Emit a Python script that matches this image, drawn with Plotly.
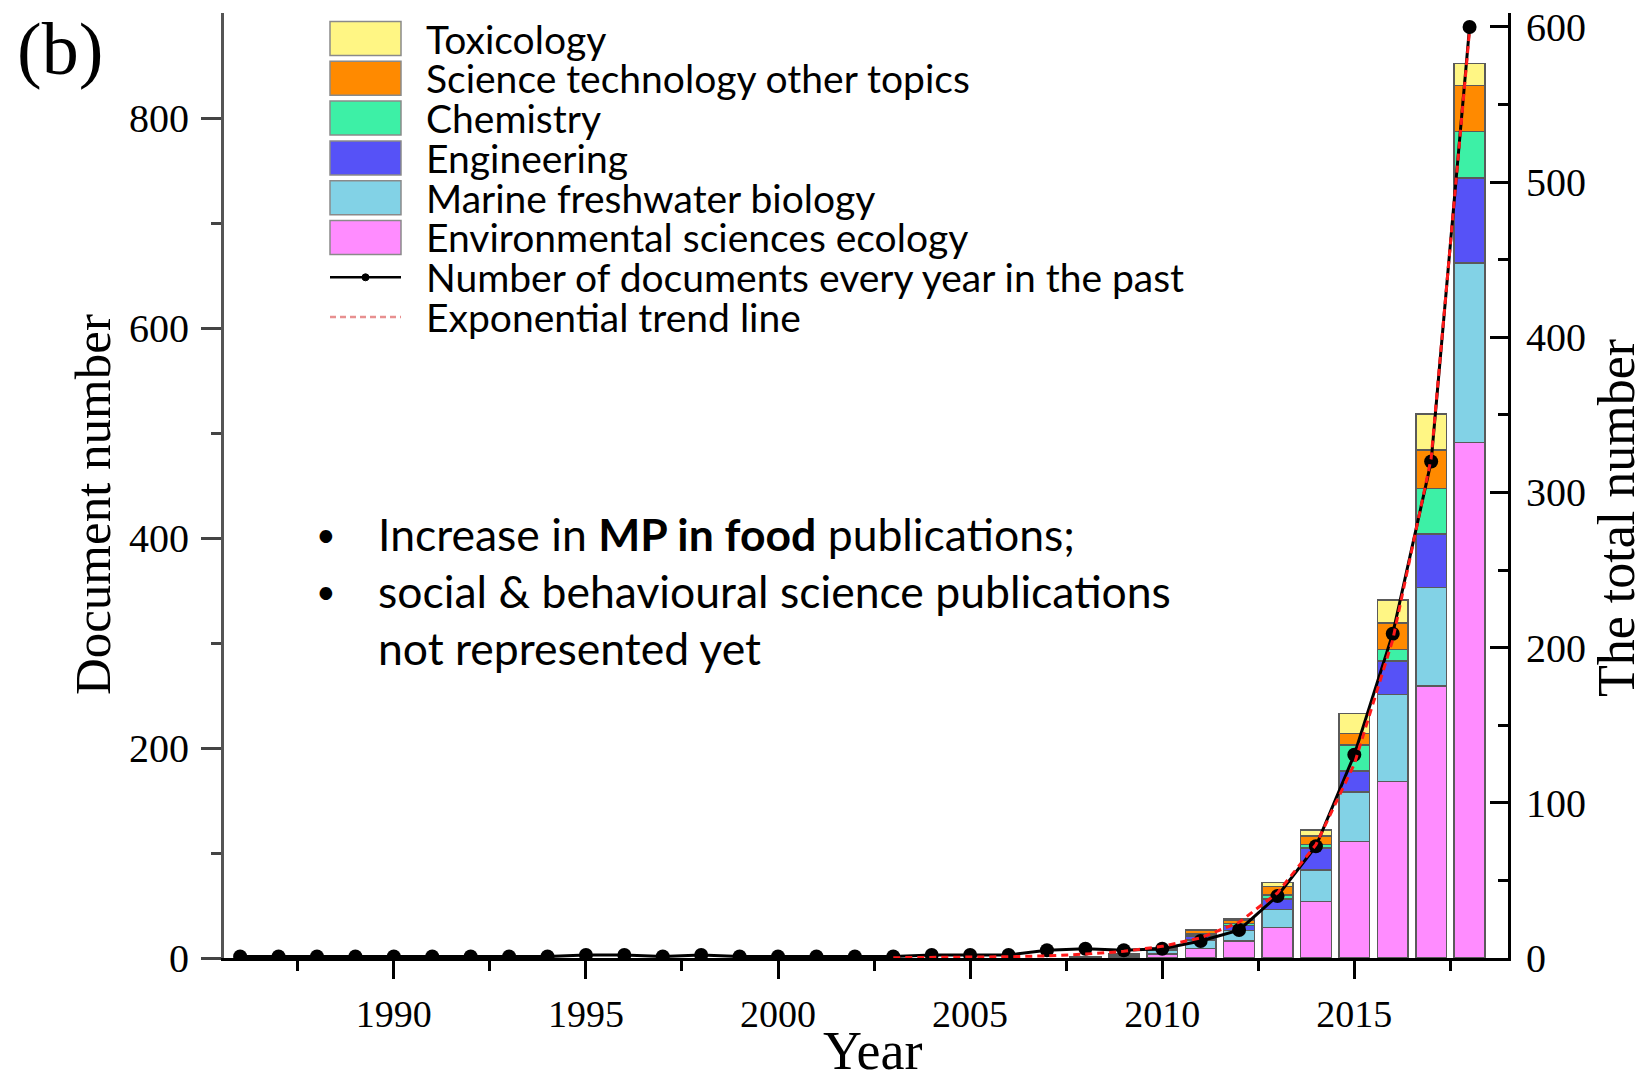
import plotly.graph_objects as go

# ---------------- data ----------------
years = list(range(1986, 2019))
docs_per_year = [1, 1, 1, 1, 1, 1, 1, 1, 1, 2, 2, 1, 2, 1, 1, 1, 1, 1, 2, 2, 2,
                 5, 6, 5, 6, 11, 18, 40, 72, 131, 209, 320, 600]

trend_years = list(range(2003, 2019))
trend_values = [0.2, 0.3, 0.5, 0.8, 1.4, 2.5, 4.3, 7.5, 13, 23, 42, 73, 125, 205, 322, 598]

bar_years = list(range(2008, 2019))
env_sci_ecology = [1, 2, 4, 9, 16, 29, 54, 111, 168, 259, 491]
marine_fw_bio = [0, 1, 3, 8, 10, 17, 30, 47, 83, 94, 171]
engineering = [0, 0, 1, 4, 5, 10, 21, 20, 32, 51, 81]
chemistry = [0, 0, 1, 2, 2, 4, 3, 25, 11, 43, 44]
sci_tech_other = [0, 1, 1, 3, 3, 8, 8, 11, 25, 37, 44]
toxicology = [0, 0, 0, 1, 1, 4, 6, 19, 22, 34, 21]

categories = ["Toxicology", "Science technology other topics", "Chemistry",
              "Engineering", "Marine freshwater biology", "Environmental sciences ecology"]
line_labels = ["Number of documents every year in the past", "Exponential trend line"]

x_ticks = [1990, 1995, 2000, 2005, 2010, 2015]
x_minor = [1987.5, 1992.5, 1997.5, 2002.5, 2007.5, 2012.5, 2017.5]
y_ticks = [0, 200, 400, 600, 800]
y_minor = [100, 300, 500, 700]
y2_ticks = [0, 100, 200, 300, 400, 500, 600]
y2_minor = [50, 150, 250, 350, 450, 550]

colors = {
    "Toxicology": "#FFF684",
    "Science technology other topics": "#FF8A00",
    "Chemistry": "#3DF0A6",
    "Engineering": "#5652F7",
    "Marine freshwater biology": "#82D2E6",
    "Environmental sciences ecology": "#FF8CFF",
}

series = {
    "Environmental sciences ecology": env_sci_ecology,
    "Marine freshwater biology": marine_fw_bio,
    "Engineering": engineering,
    "Chemistry": chemistry,
    "Science technology other topics": sci_tech_other,
    "Toxicology": toxicology,
}

# ---------------- geometry ----------------
W, H = 1645, 1081
L, R, T, B = 224, 1508, 13, 958   # plot area in pixels


def px(x):
    return (x - L) / (R - L)


def py(y):
    return (B - y) / (B - T)


fig = go.Figure()

for name, vals in series.items():
    fig.add_trace(go.Bar(
        x=bar_years, y=vals, name=name, width=0.8,
        marker=dict(color=colors[name], line=dict(color="#5a5a5a", width=1.5)),
        showlegend=False,
    ))

fig.add_trace(go.Scatter(
    x=years, y=docs_per_year, yaxis="y2", mode="lines+markers",
    line=dict(color="black", width=3),
    marker=dict(color="black", size=14),
    name=line_labels[0], showlegend=False,
))
fig.add_trace(go.Scatter(
    x=trend_years, y=trend_values, yaxis="y2", mode="lines",
    line=dict(color="#FF1A1A", width=3, dash="7px,5px"),
    name=line_labels[1], showlegend=False,
))

x_tick_font = dict(family="Liberation Serif", size=38, color="black")
y_tick_font = dict(family="Liberation Serif", size=40, color="black")

fig.update_layout(
    width=W, height=H,
    margin=dict(l=L, r=W - R, t=T, b=H - B, autoexpand=False),
    paper_bgcolor="white", plot_bgcolor="white",
    barmode="stack", bargap=0.2,
    xaxis=dict(
        range=[1985.58, 2019.0], tickvals=x_ticks, ticktext=[str(v) for v in x_ticks],
        ticks="outside", ticklen=18, tickwidth=2.5, tickcolor="black",
        minor=dict(tickvals=x_minor, ticks="outside", ticklen=10, tickwidth=2.5, tickcolor="black"),
        showline=True, linecolor="black", linewidth=3, showgrid=False, zeroline=False,
        tickfont=x_tick_font, ticklabelstandoff=2, automargin=False,
        title=dict(text="&nbsp;Year", font=dict(family="Liberation Serif", size=54, color="black"),
                   standoff=0),
    ),
    yaxis=dict(
        range=[0, 900], tickvals=y_ticks,
        ticks="outside", ticklen=20, tickwidth=2.5, tickcolor="#444",
        minor=dict(tickvals=y_minor, ticks="outside", ticklen=10, tickwidth=2.5, tickcolor="#444"),
        showline=True, linecolor="#555", linewidth=3, showgrid=False, zeroline=False,
        tickfont=y_tick_font, ticklabelstandoff=4, automargin=False,
        title=dict(text="Document number&nbsp;&nbsp;&nbsp;",
                   font=dict(family="Liberation Serif", size=51, color="black"), standoff=3),
    ),
    yaxis2=dict(
        range=[0, 609], tickvals=y2_ticks, overlaying="y", side="right",
        ticks="inside", ticklen=18, tickwidth=2.5, tickcolor="black",
        minor=dict(tickvals=y2_minor, ticks="inside", ticklen=10, tickwidth=2.5, tickcolor="black"),
        showline=True, linecolor="black", linewidth=3, showgrid=False, zeroline=False,
        tickfont=y_tick_font, ticklabelstandoff=7, automargin=False,
        title=dict(text="The total number&nbsp;&nbsp;&nbsp;&nbsp;&nbsp;",
                   font=dict(family="Liberation Serif", size=52, color="black"), standoff=23),
    ),
    showlegend=False,
)

# ---------------- custom legend ----------------
shapes = []
annotations = []
row0, dy = 38.5, 39.8
sw_x0, sw_x1, txt_x = 330, 401, 424
legend_font = dict(family="Lato", size=39, color="black")
for i, name in enumerate(categories):
    cy = row0 + i * dy
    shapes.append(dict(type="rect", xref="paper", yref="paper",
                       x0=px(sw_x0), x1=px(sw_x1), y0=py(cy + 17), y1=py(cy - 17),
                       fillcolor=colors[name], line=dict(color="#8a8a8a", width=1.5)))
    annotations.append(dict(xref="paper", yref="paper", x=px(txt_x), y=py(cy),
                            text=name, showarrow=False, xanchor="left", yanchor="middle",
                            font=legend_font))
# line samples
cy = row0 + 6 * dy
shapes.append(dict(type="line", xref="paper", yref="paper", x0=px(sw_x0), x1=px(sw_x1),
                   y0=py(cy), y1=py(cy), line=dict(color="black", width=2.5)))
shapes.append(dict(type="circle", xref="paper", yref="paper", x0=px(362), x1=px(369),
                   y0=py(cy + 3.5), y1=py(cy - 3.5), fillcolor="black", line=dict(color="black", width=1)))
annotations.append(dict(xref="paper", yref="paper", x=px(txt_x), y=py(cy), text=line_labels[0],
                        showarrow=False, xanchor="left", yanchor="middle", font=legend_font))
cy = row0 + 7 * dy
shapes.append(dict(type="line", xref="paper", yref="paper", x0=px(sw_x0), x1=px(sw_x1),
                   y0=py(cy), y1=py(cy), line=dict(color="#E89090", width=2.5, dash="6px,4px")))
annotations.append(dict(xref="paper", yref="paper", x=px(txt_x), y=py(cy), text=line_labels[1],
                        showarrow=False, xanchor="left", yanchor="middle", font=legend_font))

# ---------------- panel label and notes ----------------
annotations.append(dict(xref="paper", yref="paper", x=px(60), y=py(49), text="(b)",
                        showarrow=False, xanchor="center", yanchor="middle",
                        font=dict(family="Liberation Serif", size=74, color="black")))

note_font = dict(family="Lato", size=44.5, color="black")
bullet_font = dict(family="Lato", size=34, color="black")
note_lines = [("•", "Increase in <b>MP in food</b> publications;"),
              ("•", "social &amp; behavioural science publications"),
              ("", "not represented yet")]
for i, (bullet, text) in enumerate(note_lines):
    cy = 533 + i * 57
    if bullet:
        annotations.append(dict(xref="paper", yref="paper", x=px(326), y=py(cy), text=bullet,
                                showarrow=False, xanchor="center", yanchor="middle", font=bullet_font))
    annotations.append(dict(xref="paper", yref="paper", x=px(376), y=py(cy), text=text,
                            showarrow=False, xanchor="left", yanchor="middle", font=note_font))

fig.update_layout(shapes=shapes, annotations=annotations)

fig.write_html("out.html", config={"displayModeBar": False},
               post_script="document.body.style.margin='0';")
